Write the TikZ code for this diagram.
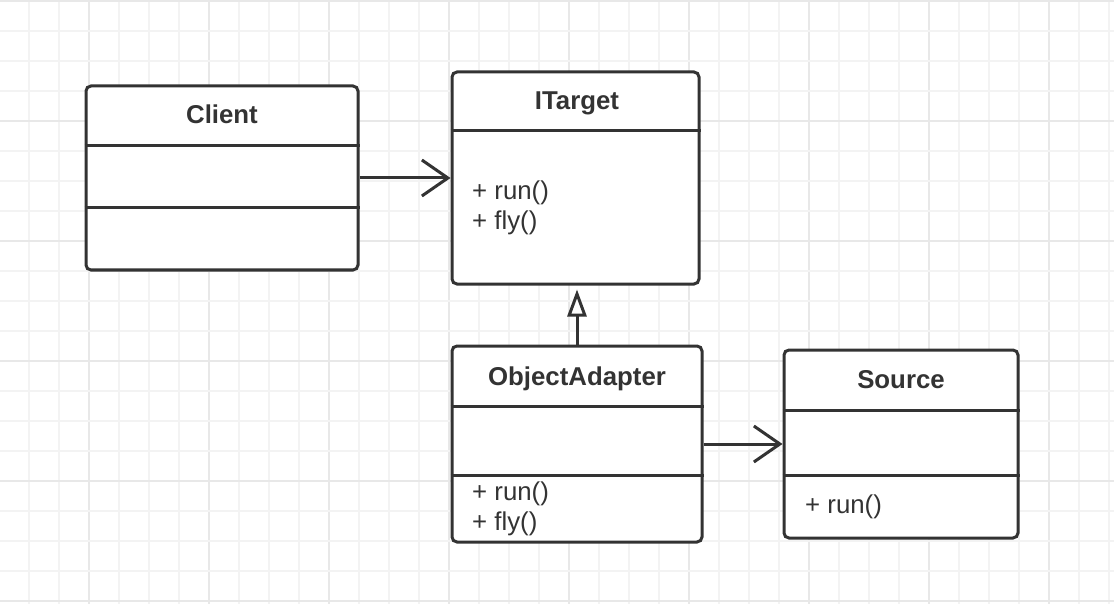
\documentclass[tikz,border=0pt]{standalone}
\usepackage{fontspec}
\setmainfont{Liberation Sans}
\usetikzlibrary{arrows.meta}
\definecolor{ink}{HTML}{333333}
\definecolor{gridminor}{HTML}{F3F3F3}
\definecolor{gridmajor}{HTML}{E8E8E8}
\tikzset{
  classbox/.style={draw=ink, line width=3pt, rounded corners=5pt, fill=white, inner sep=0pt},
  divider/.style={draw=ink, line width=3pt},
  title/.style={font=\fontsize{25.8}{30}\selectfont\bfseries, text=ink, inner sep=0pt, anchor=base},
  member/.style={font=\fontsize{25.8}{30}\selectfont, text=ink, inner sep=0pt, anchor=base west},
  assoc/.style={draw=ink, line width=3pt, -{Straight Barb[length=26pt, width=36pt, line width=3pt]}},
  inherit/.style={draw=ink, line width=3pt, -{Triangle[open, length=27pt, width=19pt, line width=3pt, fill=white]}},
}
\begin{document}
\begin{tikzpicture}[x=1pt, y=-1pt]
\useasboundingbox (0,0) rectangle (1114,604);
\fill[white] (0,0) rectangle (1114,604);
% grid
\foreach \k in {0,...,36} {
  \pgfmathtruncatemacro{\gx}{29+30*\k}
  \pgfmathtruncatemacro{\ism}{mod(\k+2,4)==0}
  \ifnum\ism=1
    \draw[gridmajor, line width=2pt] (\gx,0) -- (\gx,604);
  \else
    \draw[gridminor, line width=2pt] (\gx,0) -- (\gx,604);
  \fi
}
\foreach \k in {0,...,20} {
  \pgfmathtruncatemacro{\gy}{1+30*\k}
  \pgfmathtruncatemacro{\ism}{mod(\k,4)==0}
  \ifnum\ism=1
    \draw[gridmajor, line width=2pt] (0,\gy) -- (1114,\gy);
  \else
    \draw[gridminor, line width=2pt] (0,\gy) -- (1114,\gy);
  \fi
}
% Client
\node[classbox, minimum width=272pt, minimum height=184pt] (client) at (222,178) {};
\draw[divider] (client.west |- 0,146) -- (client.east |- 0,146);
\draw[divider] (client.west |- 0,208) -- (client.east |- 0,208);
\node[title] (clientT) at (222,124) {Client};
% ITarget
\node[classbox, minimum width=247pt, minimum height=212pt] (itarget) at (575.5,178) {};
\draw[divider] (itarget.west |- 0,131) -- (itarget.east |- 0,131);
\node[title] (itargetT) at (577,110) {ITarget};
\node[member] (itrun) at (472,200) {+ run()};
\node[member] (itfly) at (472,230) {+ fly()};
% ObjectAdapter
\node[classbox, minimum width=250pt, minimum height=196pt] (adapter) at (577,444) {};
\draw[divider] (adapter.west |- 0,406) -- (adapter.east |- 0,406);
\draw[divider] (adapter.west |- 0,475) -- (adapter.east |- 0,475);
\node[title] (adapterT) at (577,385) {ObjectAdapter};
\node[member] (oarun) at (472,500) {+ run()};
\node[member] (oafly) at (472,530) {+ fly()};
% Source
\node[classbox, minimum width=234pt, minimum height=188pt] (source) at (901,444) {};
\draw[divider] (source.west |- 0,410) -- (source.east |- 0,410);
\draw[divider] (source.west |- 0,475) -- (source.east |- 0,475);
\node[title] (sourceT) at (901,388) {Source};
\node[member] (srun) at (805,513) {+ run()};
% connectors
\draw[assoc] (client.east) -- (itarget.west);
\draw[inherit] (adapter.north) -- ([yshift=-4pt]adapter.north |- itarget.south);
\draw[assoc] (adapter.east) -- (source.west);
\end{tikzpicture}
\end{document}
